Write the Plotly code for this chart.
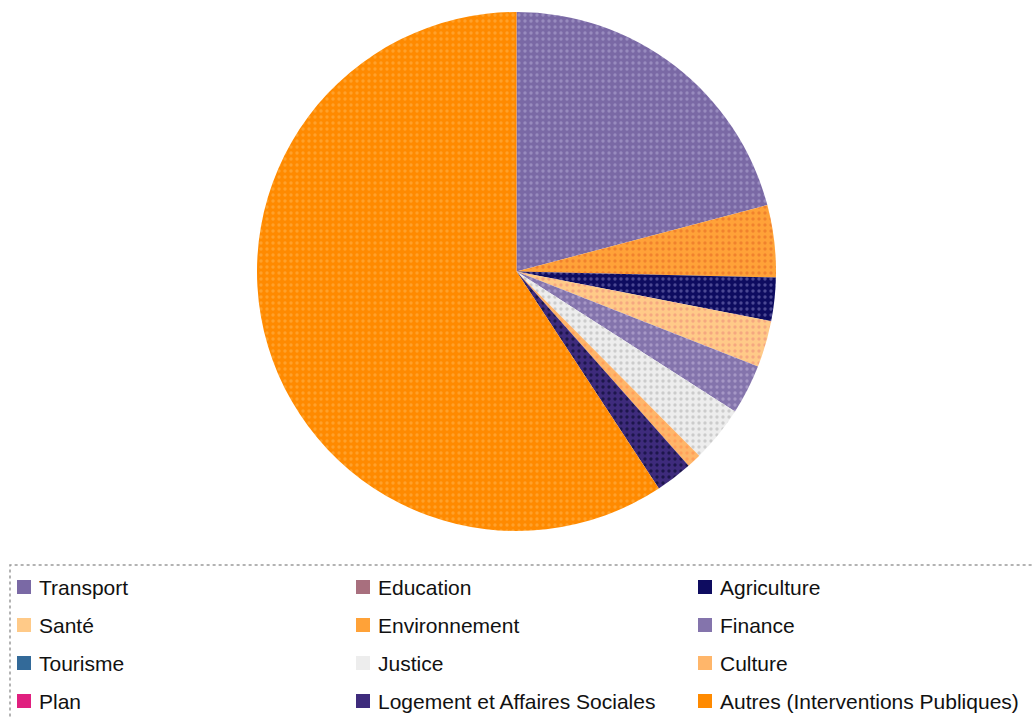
import plotly.graph_objects as go

# Budget shares by sector (percent), in legend order
categories = [
    "Transport", "Education", "Agriculture",
    "Santé", "Environnement", "Finance",
    "Tourisme", "Justice", "Culture",
    "Plan", "Logement et Affaires Sociales", "Autres (Interventions Publiques)",
]
values = [20.9, 0.0, 2.7, 2.9, 4.5, 3.1, 0.0, 3.5, 0.9, 0.0, 2.3, 59.3]

# Order in which the slices are drawn, clockwise from 12 o'clock
slice_order = [
    "Transport", "Environnement", "Agriculture", "Santé", "Finance",
    "Justice", "Culture", "Logement et Affaires Sociales",
    "Autres (Interventions Publiques)",
]

base_colors = {
    "Transport": "#7A69A5",
    "Education": "#A86F7E",
    "Agriculture": "#0E0C60",
    "Santé": "#FFCA88",
    "Environnement": "#FFA238",
    "Finance": "#8474AC",
    "Tourisme": "#336A99",
    "Justice": "#EDEDED",
    "Culture": "#FFB66A",
    "Plan": "#E0207F",
    "Logement et Affaires Sociales": "#3E2B7C",
    "Autres (Interventions Publiques)": "#FF8A00",
}
dot_colors = {
    "Transport": "#A094C4",
    "Agriculture": "#5A58A0",
    "Santé": "#F2A07E",
    "Environnement": "#EE7A2A",
    "Finance": "#AEA0CC",
    "Justice": "#C4C4C4",
    "Culture": "#FF9A55",
    "Logement et Affaires Sociales": "#151040",
    "Autres (Interventions Publiques)": "#FFA636",
}

W, H = 1032, 717
value_of = dict(zip(categories, values))
pie_values = [value_of[c] for c in slice_order]

fig = go.Figure()
fig.add_trace(go.Pie(
    labels=slice_order,
    values=pie_values,
    sort=False,
    direction="clockwise",
    rotation=0,
    textinfo="none",
    hoverinfo="label+percent",
    showlegend=False,
    marker=dict(
        colors=[base_colors[c] for c in slice_order],
        line=dict(width=0),
        pattern=dict(
            shape=["."] * len(slice_order),
            fillmode="overlay",
            fgcolor=[dot_colors[c] for c in slice_order],
            fgopacity=0.8,
            size=6,
            solidity=0.25,
        ),
    ),
    domain=dict(x=[255 / W, 778 / W], y=[1 - 531 / H, 1 - 12 / H]),
))

# Legend box: three columns, four rows
shapes = [dict(
    type="rect", xref="paper", yref="paper",
    x0=10 / W, x1=1.02, y0=-0.02, y1=1 - 565 / H,
    line=dict(color="#9A9A9A", width=1.5, dash="dot"),
    fillcolor="rgba(0,0,0,0)",
)]
annotations = []
col_x = [17, 356, 698]
row_y = [587, 625, 663, 701]
sq = 14
for i, name in enumerate(categories):
    cx = col_x[i % 3]
    cy = row_y[i // 3]
    shapes.append(dict(
        type="rect", xref="paper", yref="paper",
        x0=cx / W, x1=(cx + sq) / W,
        y0=1 - (cy + sq / 2) / H, y1=1 - (cy - sq / 2) / H,
        fillcolor=base_colors[name], line=dict(width=0),
    ))
    annotations.append(dict(
        xref="paper", yref="paper",
        x=(cx + sq + 6) / W, y=1 - cy / H,
        xanchor="left", yanchor="middle",
        text=name, showarrow=False,
        font=dict(family="Liberation Sans, Arial, sans-serif", size=21, color="#111111"),
    ))

fig.update_layout(
    width=W, height=H,
    margin=dict(l=0, r=0, t=0, b=0),
    paper_bgcolor="white",
    plot_bgcolor="white",
    shapes=shapes,
    annotations=annotations,
)

fig.write_html("out.html")
